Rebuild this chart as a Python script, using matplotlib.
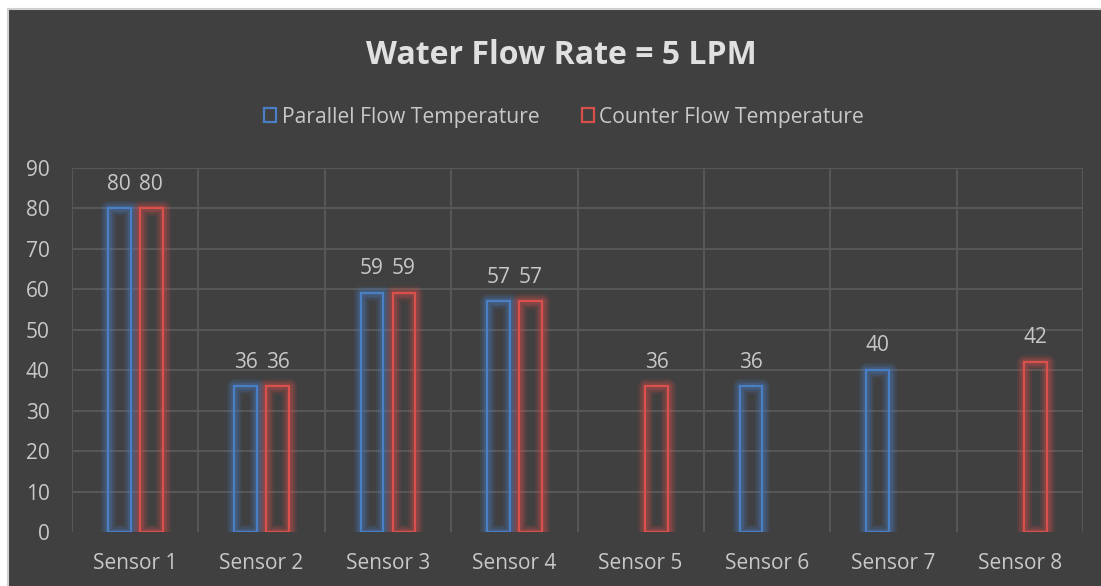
import numpy as np
import matplotlib
matplotlib.use("Agg")
import matplotlib.pyplot as plt
from matplotlib.patches import Rectangle, Patch

plt.rcParams['font.family'] = ['Open Sans', 'DejaVu Sans']

# data
sensors = ["Sensor 1", "Sensor 2", "Sensor 3", "Sensor 4",
           "Sensor 5", "Sensor 6", "Sensor 7", "Sensor 8"]
parallel = [80, 36, 59, 57, np.nan, 36, 40, np.nan]
counter = [80, 36, 59, 57, 36, np.nan, np.nan, 42]
yticks = [0, 10, 20, 30, 40, 50, 60, 70, 80, 90]

bg = '#404040'
txt = '#C8C8C8'
grid = '#575757'
blue = '#4A7FC6'
red = '#D9504D'

fig = plt.figure(figsize=(11.01, 5.86), dpi=100, facecolor='white')
# dark chart area with light border
fig.patches.append(Rectangle((8 / 1101, -0.01), 1.0, 1 - 9 / 586 + 0.01,
                             transform=fig.transFigure, facecolor=bg,
                             edgecolor='#D0D0D0', lw=1.5, zorder=-10))

ax = fig.add_axes([72 / 1101, 1 - 532 / 586, (1083 - 72) / 1101, (532 - 168) / 586])
ax.set_facecolor('none')

x = np.arange(len(sensors))
w = 0.18
off = 0.127


def glow_bars(xs, vals, color):
    for xi, v in zip(xs, vals):
        if np.isnan(v):
            continue
        for lw, a in [(11, 0.12), (8, 0.16), (5, 0.22)]:
            ax.add_patch(Rectangle((xi - w / 2, 0), w, v, facecolor='none',
                                   edgecolor=color, lw=lw, alpha=a, zorder=2,
                                   joinstyle='round'))
        ax.add_patch(Rectangle((xi - w / 2, 0), w, v, facecolor='none',
                               edgecolor=color, lw=1.6, zorder=3))
        ax.annotate(f"{v:g}", (xi, v), xytext=(0, 10), textcoords='offset points',
                    ha='center', va='bottom', color=txt, fontsize=15)


glow_bars(x - off, parallel, blue)
glow_bars(x + off, counter, red)

ax.set_xlim(-0.5, len(sensors) - 0.5)
ax.set_ylim(0, 90)
ax.set_yticks(yticks)
ax.set_xticks(x)
ax.set_xticklabels(sensors)
for yt in yticks[1:]:
    ax.axhline(yt, color=grid, lw=1.5, zorder=1)
for b in np.arange(len(sensors) + 1) - 0.5:
    ax.axvline(b, color=grid, lw=1.5, zorder=1)
for s in ax.spines.values():
    s.set_visible(False)
ax.tick_params(length=0, colors=txt, labelsize=15)
ax.tick_params(axis='x', pad=15)
ax.tick_params(axis='y', pad=16)

fig.text(561 / 1101, 1 - 55 / 586, "Water Flow Rate = 5 LPM", ha='center', va='center',
         color='#E0E0E0', fontsize=23, fontweight='bold')

handles = [Patch(facecolor='none', edgecolor=blue, lw=1.6, label="Parallel Flow Temperature"),
           Patch(facecolor='none', edgecolor=red, lw=1.6, label="Counter Flow Temperature")]
leg = fig.legend(handles=handles, loc='center', bbox_to_anchor=(564 / 1101, 1 - 117 / 586),
                 ncol=2, frameon=False, fontsize=15.2, handlelength=0.6,
                 handleheight=0.6, handletextpad=0.25, columnspacing=2.0)
for t in leg.get_texts():
    t.set_color(txt)

fig.savefig("out.png", dpi=100, facecolor='white')
